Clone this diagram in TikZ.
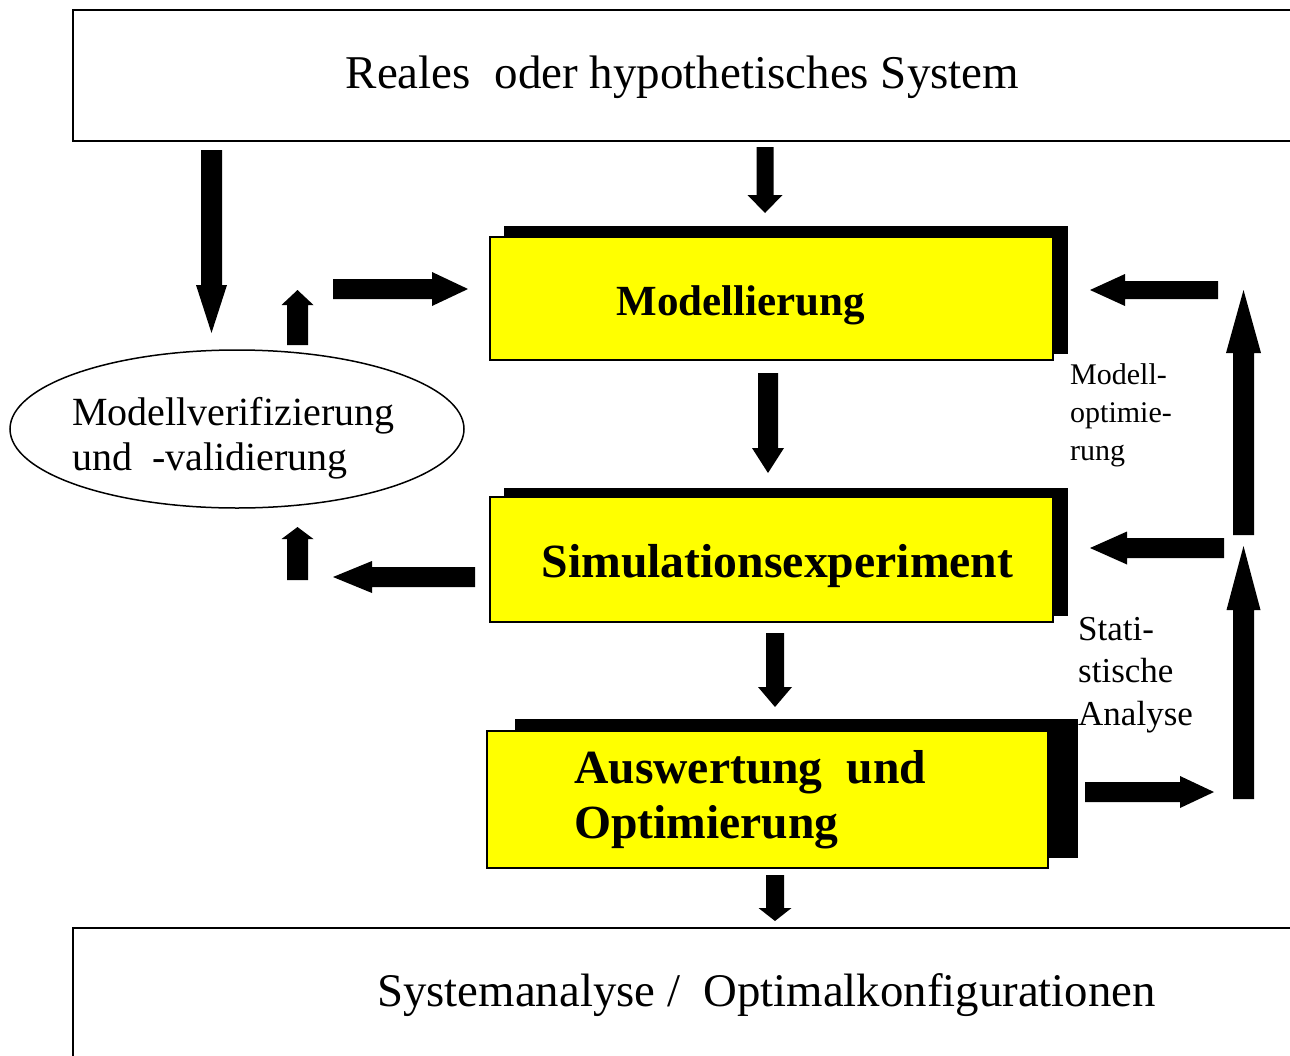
\documentclass[tikz,border=0pt]{standalone}
\usepackage{fontspec}
\setmainfont{Liberation Serif}
\usetikzlibrary{calc,shapes.geometric}
\definecolor{boxyellow}{RGB}{255,255,0}
\tikzset{
  yelbox/.style={draw=black, line width=1.5pt, fill=boxyellow, inner sep=0pt, rectangle},
  shdbox/.style={fill=black, draw=none, inner sep=0pt, rectangle},
  framebox/.style={draw=black, line width=1.6pt, fill=none, inner sep=0pt, rectangle},
  lbl/.style={inner sep=0pt, anchor=base},
  lblw/.style={inner sep=0pt, anchor=base west},
}
\newcommand\blockarr[5]{%
  \coordinate (hb) at ($(#2)!#5pt!(#1)$);
  \fill ($(#1)!#3pt!90:(#2)$) -- ($(hb)!#3pt!-90:(#1)$) -- ($(hb)!#4pt!-90:(#1)$) -- (#2)
     -- ($(hb)!#4pt!90:(#1)$) -- ($(hb)!#3pt!90:(#1)$) -- ($(#1)!#3pt!-90:(#2)$) -- cycle;
}
\begin{document}
\begin{tikzpicture}[x=1pt,y=-1pt]
\useasboundingbox (0,0) rectangle (1290,1055);
\fill[white] (0,0) rectangle (1290,1055);

% frames
\node[framebox, minimum width=1327pt, minimum height=131pt] (top) at (736.5,75.5) {};
\node[framebox, minimum width=1327pt, minimum height=172pt] (bot) at (736.5,1014) {};
\node[lbl, font=\fontsize{47}{56}\selectfont] (toptxt) at (682.5,88) {Reales~ oder hypothetisches System};
\node[lbl, font=\fontsize{46.8}{56}\selectfont] (bottxt) at (766.5,1006) {Systemanalyse /~ Optimalkonfigurationen};

% Modellierung
\node[shdbox, minimum width=564pt, minimum height=128pt] (modS) at (786,290) {};
\node[yelbox, minimum width=563pt, minimum height=123pt] (mod) at (771.5,298.5) {};
\node[lbl, font=\fontsize{43}{50}\selectfont\bfseries] (modtxt) at (741,315) {Modellierung};

% Simulationsexperiment
\node[shdbox, minimum width=564pt, minimum height=128pt] (simS) at (786,552) {};
\node[yelbox, minimum width=563pt, minimum height=125pt] (sim) at (771.5,559.5) {};
\node[lbl, font=\fontsize{47.7}{56}\selectfont\bfseries] (simtxt) at (777.5,577) {Simulationsexperiment};

% Auswertung
\node[shdbox, minimum width=563pt, minimum height=139pt] (ausS) at (796.5,788.5) {};
\node[yelbox, minimum width=561pt, minimum height=137pt] (aus) at (767.5,799.5) {};
\node[lblw, font=\fontsize{47.6}{56}\selectfont\bfseries] (austxt) at (574,783)
  {\vtop{\baselineskip=55pt \hbox{Auswertung~ und}\hbox{Optimierung}}};

% ellipse
\node[draw=black, line width=1.5pt, ellipse, minimum width=454pt, minimum height=158pt, inner sep=0pt] (ell) at (237,429) {};
\node[lblw, font=\fontsize{40}{45}\selectfont] (elltxt) at (72,425)
  {\vtop{\baselineskip=45pt \hbox{Modellverifizierung}\hbox{und~ -validierung}}};

% side labels
\node[lblw, font=\fontsize{30}{38}\selectfont] (optlbl) at (1070,384)
  {\vtop{\baselineskip=38pt \hbox{Modell-}\hbox{optimie-}\hbox{rung}}};
\node[lblw, font=\fontsize{35}{42.5}\selectfont] (statlbl) at (1078,640)
  {\vtop{\baselineskip=42.5pt \hbox{Stati-}\hbox{stische}\hbox{Analyse}}};

% arrows
\coordinate (a1s) at (211.5,150);  \coordinate (a1t) at (211.5,333);
\blockarr{a1s}{a1t}{10.5}{15.5}{48}
\coordinate (a2s) at (765,147);    \coordinate (a2t) at (765,213);
\blockarr{a2s}{a2t}{8.5}{17.5}{18}
\coordinate (a3s) at (297.5,345);  \coordinate (a3t) at (297.5,290);
\blockarr{a3s}{a3t}{10.5}{16}{15}
\coordinate (a4s) at (333,289);    \coordinate (a4t) at (468,289);
\blockarr{a4s}{a4t}{10}{17}{36}
\coordinate (a5s) at (768,373);    \coordinate (a5t) at (768,473);
\blockarr{a5s}{a5t}{10}{16}{25}
\coordinate (a6s) at (475,577);    \coordinate (a6t) at (333,577);
\blockarr{a6s}{a6t}{10}{16}{39}
\coordinate (a7s) at (297.5,580);  \coordinate (a7t) at (297.5,527);
\blockarr{a7s}{a7t}{10.5}{16}{12}
\coordinate (a8s) at (775,633);    \coordinate (a8t) at (775,707);
\blockarr{a8s}{a8t}{9}{17}{20}
\coordinate (a9s) at (775,875);    \coordinate (a9t) at (775,921);
\blockarr{a9s}{a9t}{9}{16.5}{13}
\coordinate (a10s) at (1085,792); \coordinate (a10t) at (1214,792);
\blockarr{a10s}{a10t}{10}{16}{34}
\coordinate (a11s) at (1243.5,799); \coordinate (a11t) at (1243.5,546);
\blockarr{a11s}{a11t}{10.5}{17}{64}
\coordinate (a12s) at (1243.5,535); \coordinate (a12t) at (1243.5,290);
\blockarr{a12s}{a12t}{10.5}{17.5}{63}
\coordinate (a13s) at (1218,290); \coordinate (a13t) at (1090,290);
\blockarr{a13s}{a13t}{9}{16}{35}
\coordinate (a14s) at (1224,548); \coordinate (a14t) at (1090,548);
\blockarr{a14s}{a14t}{10}{16.5}{37}
\end{tikzpicture}
\end{document}
